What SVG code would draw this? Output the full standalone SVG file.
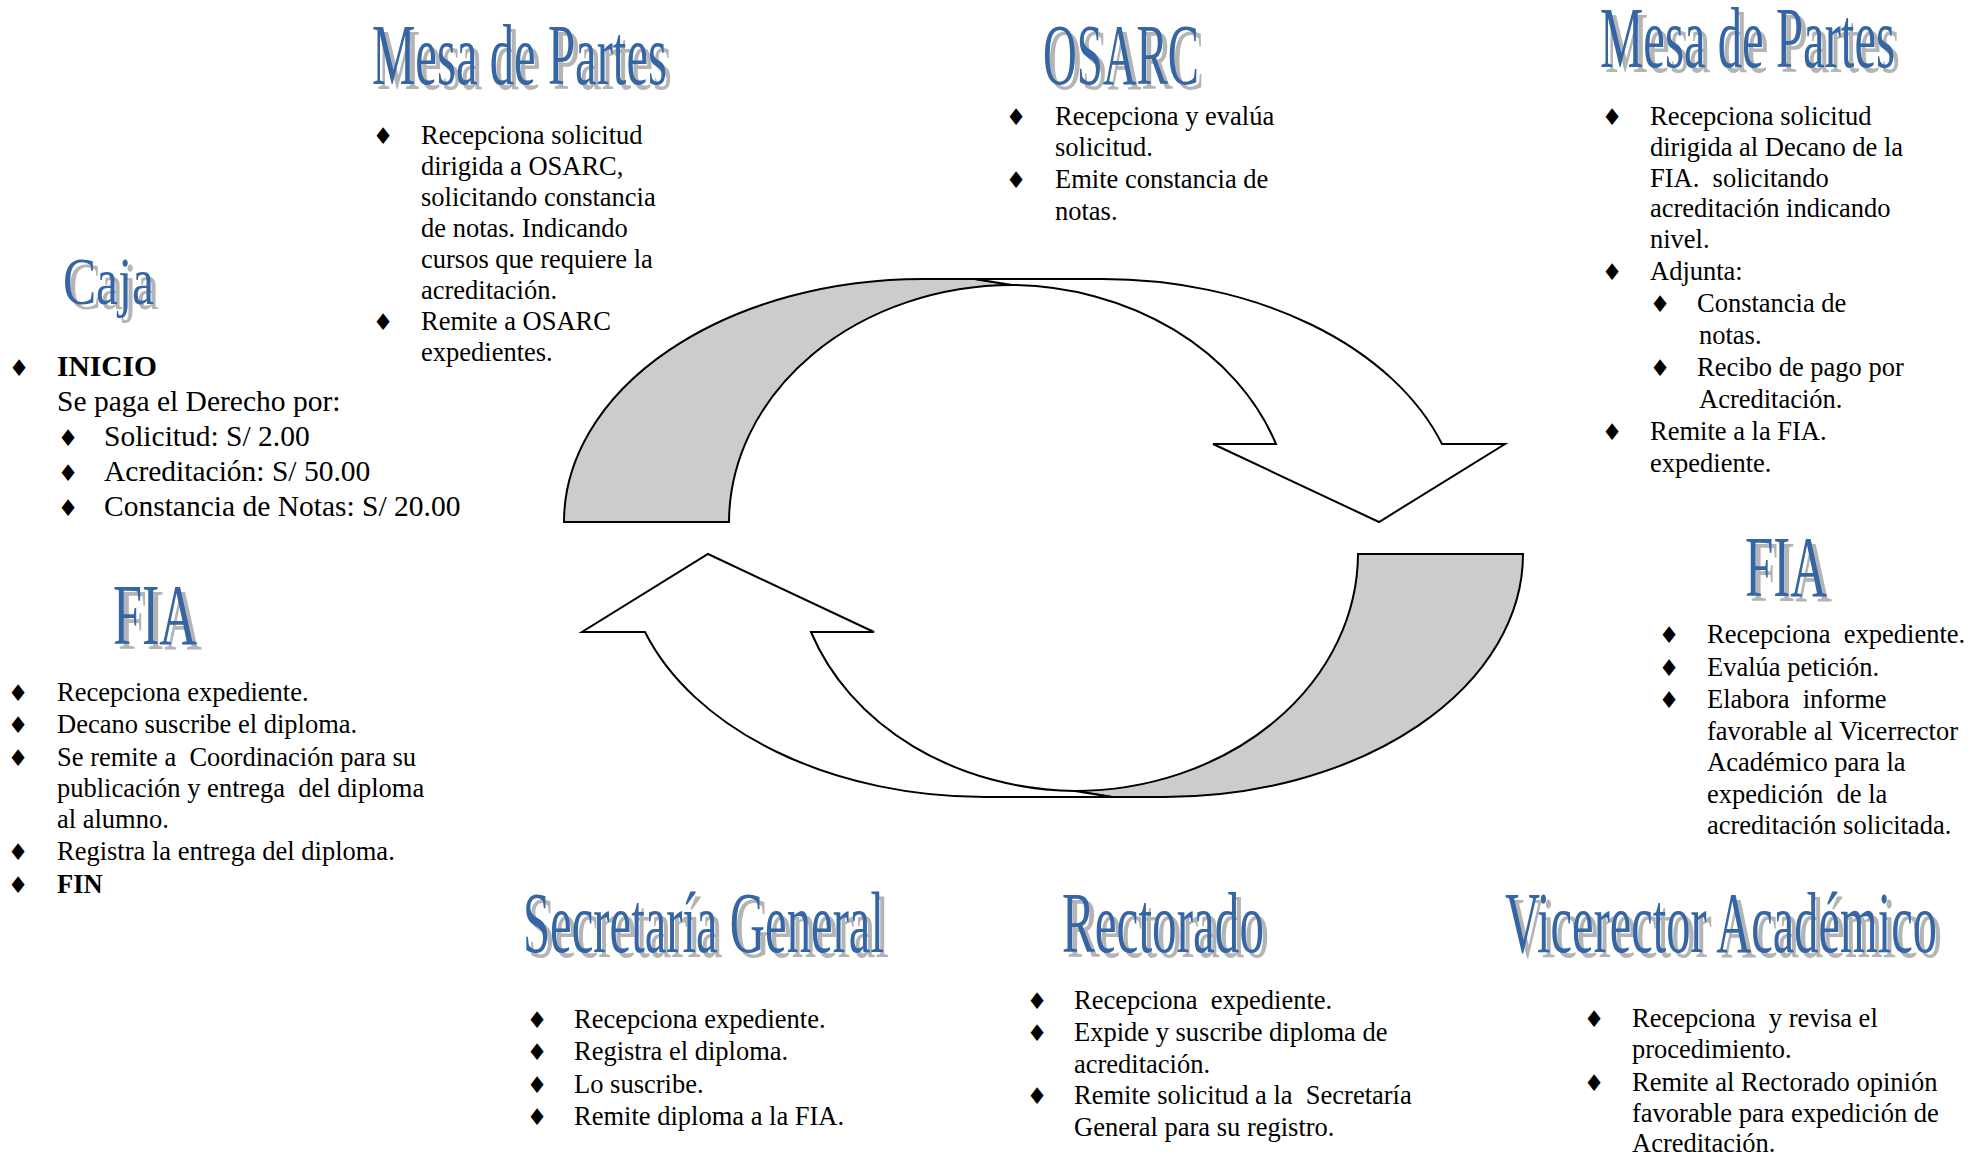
<svg xmlns="http://www.w3.org/2000/svg" width="1971" height="1154" viewBox="0 0 1971 1154">
<style>
.t{font-family:"Liberation Serif","Times New Roman",serif;font-size:86px;fill:#3465a4;}
.s{font-family:"Liberation Serif","Times New Roman",serif;font-size:86px;fill:#b4b4b4;}
.b{font-family:"Liberation Serif","Times New Roman",serif;font-size:26.5px;fill:#000;white-space:pre;}
.w{font-family:"Liberation Serif","Times New Roman",serif;font-size:26.5px;fill:#000;white-space:pre;}
.d{font-family:"DejaVu Sans",sans-serif;font-size:23px;fill:#000;text-anchor:middle;}
.bold{font-weight:bold;}
.arw{stroke:#000;stroke-width:2;stroke-linejoin:miter;}
</style>
<rect width="1971" height="1154" fill="#fff"/>

<defs>
  <g id="curved-arrow">
    <path class="arw" fill="#cccccc" d="M564,522 A359,243 0 0 1 923,279 L975,279 L1012,285 A284,238 0 0 0 729,522 Z"/>
    <path class="arw" fill="#fff" d="M975,279 L1101,279 A359,244 0 0 1 1442,444 L1505,444 L1379,522 L1213,444 L1276,444 A284,238 0 0 0 1012,285 Z"/>
  </g>
</defs>

<g id="connectors">
  <use id="arrow-top" href="#curved-arrow"/>
  <use id="arrow-bottom" href="#curved-arrow" transform="rotate(180 1043.5 538)"/>
</g>

<g id="mesa-partes-1">
  <text class="s" x="377" y="89" textLength="295" lengthAdjust="spacingAndGlyphs">Mesa de Partes</text>
  <text class="t" x="372" y="84" textLength="295" lengthAdjust="spacingAndGlyphs">Mesa de Partes</text>
  <text class="d" x="383" y="144">♦</text>
  <text class="b" x="421" y="144">Recepciona solicitud</text>
  <text class="b" x="421" y="175">dirigida a OSARC,</text>
  <text class="b" x="421" y="206">solicitando constancia</text>
  <text class="b" x="421" y="237">de notas. Indicando</text>
  <text class="b" x="421" y="268">cursos que requiere la</text>
  <text class="b" x="421" y="299">acreditación.</text>
  <text class="d" x="383" y="330">♦</text>
  <text class="b" x="421" y="330">Remite a OSARC</text>
  <text class="b" x="421" y="361">expedientes.</text>
</g>

<g id="caja">
  <text class="s" x="68" y="309" textLength="91" lengthAdjust="spacingAndGlyphs" style="font-size:68px">Caja</text>
  <text class="t" x="63" y="304" textLength="91" lengthAdjust="spacingAndGlyphs" style="font-size:68px">Caja</text>
  <text class="d" x="19" y="376">♦</text>
  <text class="b bold" x="57" y="376" style="font-size:29.5px">INICIO</text>
  <text class="b" x="57" y="411" style="font-size:29.5px">Se paga el Derecho por:</text>
  <text class="d" x="68" y="446">♦</text>
  <text class="b" x="104" y="446" style="font-size:29.5px">Solicitud: S/ 2.00</text>
  <text class="d" x="68" y="481">♦</text>
  <text class="b" x="104" y="481" style="font-size:29.5px">Acreditación: S/ 50.00</text>
  <text class="d" x="68" y="516">♦</text>
  <text class="b" x="104" y="516" style="font-size:29.5px">Constancia de Notas: S/ 20.00</text>
</g>

<g id="osarc">
  <text class="s" x="1048" y="89" textLength="156" lengthAdjust="spacingAndGlyphs">OSARC</text>
  <text class="t" x="1043" y="84" textLength="156" lengthAdjust="spacingAndGlyphs">OSARC</text>
  <text class="d" x="1016" y="125">♦</text>
  <text class="b" x="1055" y="125">Recepciona y evalúa</text>
  <text class="b" x="1055" y="156">solicitud.</text>
  <text class="d" x="1016" y="188">♦</text>
  <text class="b" x="1055" y="188">Emite constancia de</text>
  <text class="b" x="1055" y="220">notas.</text>
</g>

<g id="mesa-partes-2">
  <text class="s" x="1605" y="72" textLength="295" lengthAdjust="spacingAndGlyphs">Mesa de Partes</text>
  <text class="t" x="1600" y="67" textLength="295" lengthAdjust="spacingAndGlyphs">Mesa de Partes</text>
  <text class="d" x="1612" y="125">♦</text>
  <text class="b" x="1650" y="125">Recepciona solicitud</text>
  <text class="b" x="1650" y="156">dirigida al Decano de la</text>
  <text class="b" x="1650" y="187">FIA.  solicitando</text>
  <text class="b" x="1650" y="217">acreditación indicando</text>
  <text class="b" x="1650" y="248">nivel.</text>
  <text class="d" x="1612" y="280">♦</text>
  <text class="b" x="1650" y="280">Adjunta:</text>
  <text class="d" x="1660" y="312">♦</text>
  <text class="b" x="1697" y="312">Constancia de</text>
  <text class="b" x="1699" y="344">notas.</text>
  <text class="d" x="1660" y="376">♦</text>
  <text class="b" x="1697" y="376">Recibo de pago por</text>
  <text class="b" x="1699" y="408">Acreditación.</text>
  <text class="d" x="1612" y="440">♦</text>
  <text class="b" x="1650" y="440">Remite a la FIA.</text>
  <text class="b" x="1650" y="472">expediente.</text>
</g>

<g id="fia-1">
  <text class="s" x="1750" y="601" textLength="82" lengthAdjust="spacingAndGlyphs">FIA</text>
  <text class="t" x="1745" y="596" textLength="82" lengthAdjust="spacingAndGlyphs">FIA</text>
  <text class="d" x="1669" y="643">♦</text>
  <text class="w" x="1707" y="643">Recepciona  expediente.</text>
  <text class="d" x="1669" y="676">♦</text>
  <text class="w" x="1707" y="676">Evalúa petición.</text>
  <text class="d" x="1669" y="708">♦</text>
  <text class="w" x="1707" y="708">Elabora  informe</text>
  <text class="w" x="1707" y="740">favorable al Vicerrector</text>
  <text class="w" x="1707" y="771">Académico para la</text>
  <text class="w" x="1707" y="803">expedición  de la</text>
  <text class="w" x="1707" y="834">acreditación solicitada.</text>
</g>

<g id="vicerrector">
  <text class="s" x="1510" y="957" textLength="432" lengthAdjust="spacingAndGlyphs">Vicerector Académico</text>
  <text class="t" x="1505" y="952" textLength="432" lengthAdjust="spacingAndGlyphs">Vicerector Académico</text>
  <text class="d" x="1594" y="1027">♦</text>
  <text class="w" x="1632" y="1027">Recepciona  y revisa el</text>
  <text class="w" x="1632" y="1058">procedimiento.</text>
  <text class="d" x="1594" y="1091">♦</text>
  <text class="w" x="1632" y="1091">Remite al Rectorado opinión</text>
  <text class="w" x="1632" y="1122">favorable para expedición de</text>
  <text class="w" x="1632" y="1152">Acreditación.</text>
</g>

<g id="rectorado">
  <text class="s" x="1067" y="957" textLength="202" lengthAdjust="spacingAndGlyphs">Rectorado</text>
  <text class="t" x="1062" y="952" textLength="202" lengthAdjust="spacingAndGlyphs">Rectorado</text>
  <text class="d" x="1037" y="1009">♦</text>
  <text class="b" x="1074" y="1009">Recepciona  expediente.</text>
  <text class="d" x="1037" y="1041">♦</text>
  <text class="b" x="1074" y="1041">Expide y suscribe diploma de</text>
  <text class="b" x="1074" y="1073">acreditación.</text>
  <text class="d" x="1037" y="1104">♦</text>
  <text class="b" x="1074" y="1104">Remite solicitud a la  Secretaría</text>
  <text class="b" x="1074" y="1136">General para su registro.</text>
</g>

<g id="secretaria-general">
  <text class="s" x="528" y="957" textLength="361" lengthAdjust="spacingAndGlyphs">Secretaría General</text>
  <text class="t" x="523" y="952" textLength="361" lengthAdjust="spacingAndGlyphs">Secretaría General</text>
  <text class="d" x="537" y="1028">♦</text>
  <text class="b" x="574" y="1028">Recepciona expediente.</text>
  <text class="d" x="537" y="1060">♦</text>
  <text class="b" x="574" y="1060">Registra el diploma.</text>
  <text class="d" x="537" y="1093">♦</text>
  <text class="b" x="574" y="1093">Lo suscribe.</text>
  <text class="d" x="537" y="1125">♦</text>
  <text class="b" x="574" y="1125">Remite diploma a la FIA.</text>
</g>

<g id="fia-2">
  <text class="s" x="118" y="649" textLength="84" lengthAdjust="spacingAndGlyphs">FIA</text>
  <text class="t" x="113" y="644" textLength="84" lengthAdjust="spacingAndGlyphs">FIA</text>
  <text class="d" x="18" y="701">♦</text>
  <text class="b" x="57" y="701">Recepciona expediente.</text>
  <text class="d" x="18" y="733">♦</text>
  <text class="b" x="57" y="733">Decano suscribe el diploma.</text>
  <text class="d" x="18" y="766">♦</text>
  <text class="b" x="57" y="766">Se remite a  Coordinación para su</text>
  <text class="b" x="57" y="797">publicación y entrega  del diploma</text>
  <text class="b" x="57" y="828">al alumno.</text>
  <text class="d" x="18" y="860">♦</text>
  <text class="b" x="57" y="860">Registra la entrega del diploma.</text>
  <text class="d" x="18" y="893">♦</text>
  <text class="b bold" x="57" y="893">FIN</text>
</g>
</svg>
